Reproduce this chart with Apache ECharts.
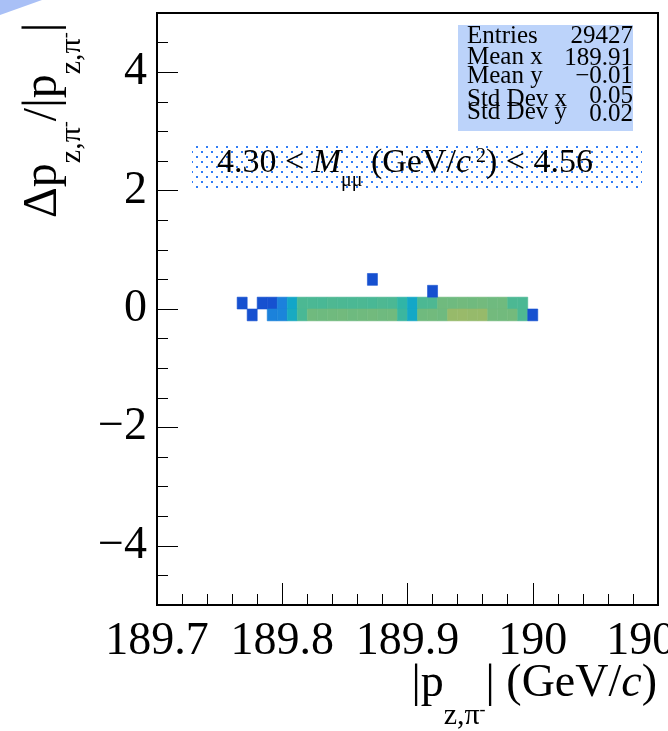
<!DOCTYPE html>
<html>
<head>
<meta charset="utf-8">
<script src="https://cdn.jsdelivr.net/npm/echarts@6/dist/echarts.min.js"></script>
<style>html,body{margin:0;padding:0;background:#fff;}</style>
</head>
<body>
<div id="main" style="width:668px;height:731px;"></div>
<script>
// 2D histogram, bins of 0.008 (x) by 0.2 (y)
var binW = 0.008, binH = 0.2;

// row 0 < y < 0.2 : bin centres and counts
var rowUpperY = 0.1;
var rowUpperX = [189.768, 189.784, 189.792, 189.800, 189.808, 189.816, 189.824, 189.832, 189.840, 189.848,
                 189.856, 189.864, 189.872, 189.880, 189.888, 189.896, 189.904, 189.912, 189.920, 189.928,
                 189.936, 189.944, 189.952, 189.960, 189.968, 189.976, 189.984, 189.992];
var rowUpperN = [1, 2, 4, 145, 290, 540, 535, 530, 545, 540, 535, 540, 530, 545, 535,
                 440, 295, 540, 545, 690, 685, 695, 690, 700, 685, 690, 540, 535];

// row -0.2 < y < 0
var rowLowerY = -0.1;
var rowLowerX = [189.776, 189.792, 189.800, 189.808, 189.816, 189.824, 189.832, 189.840, 189.848, 189.856,
                 189.864, 189.872, 189.880, 189.888, 189.896, 189.904, 189.912, 189.920, 189.928, 189.936,
                 189.944, 189.952, 189.960, 189.968, 189.976, 189.984, 189.992, 190.000];
var rowLowerN = [1, 150, 160, 320, 530, 690, 680, 690, 695, 680, 690, 695, 685, 690,
                 480, 300, 690, 695, 685, 840, 845, 835, 840, 700, 695, 705, 545, 2];

// isolated entries
var strayX = [189.872, 189.920];
var strayY = [0.5, 0.3];
var strayN = [1, 1];

var statNames = ['Entries', 'Mean x', 'Mean y', 'Std Dev x', 'Std Dev y'];
var statValues = ['29427', '189.91', '\u22120.01', '0.05', '0.02'];

var cells = [];
rowUpperX.forEach(function (x, i) { cells.push([x, rowUpperY, rowUpperN[i]]); });
rowLowerX.forEach(function (x, i) { cells.push([x, rowLowerY, rowLowerN[i]]); });
strayX.forEach(function (x, i) { cells.push([x, strayY[i], strayN[i]]); });

var serif = 'Liberation Serif';

// dotted fill for the mass-window label
var pat = document.createElement('canvas');
pat.width = 10; pat.height = 10;
var pc = pat.getContext('2d');
pc.fillStyle = '#2f7cf6';
pc.fillRect(1, 1, 2, 2);
pc.fillRect(6, 6, 2, 2);

var statTexts = [];
var leftBase = [43, 64, 83, 106, 119];
var rightBase = [43, 65, 83, 103, 121];
statNames.forEach(function (s, i) {
    statTexts.push({type: 'text', x: 467, y: leftBase[i] + 6, z: 20,
        style: {text: s, fontFamily: serif, fontSize: 25, fill: '#000', align: 'left', verticalAlign: 'bottom'}});
    statTexts.push({type: 'text', x: 633, y: rightBase[i] + 6, z: 20,
        style: {text: statValues[i], fontFamily: serif, fontSize: 25, fill: '#000', align: 'right', verticalAlign: 'bottom'}});
});

function tok(size, pad, italic) {
    return {fontFamily: serif, fontSize: size, lineHeight: size, verticalAlign: 'top',
            padding: [pad, 0, 0, 0], fontStyle: italic ? 'italic' : 'normal', color: '#000'};
}

var myChart = echarts.init(document.getElementById('main'));

var option = {
    backgroundColor: '#fff',
    animation: false,
    grid: {
        left: 157, top: 13, right: 10, bottom: 126,
        show: true, borderColor: '#000', borderWidth: 2,
        outerBoundsMode: 'none'
    },
    visualMap: {
        show: false, type: 'continuous', min: 0, max: 1000, dimension: 2, seriesIndex: 0,
        inRange: {color: ['#1650d0', '#1c80dc', '#11a6c9', '#2db5a9', '#55b98d', '#76ba7b', '#9cba68', '#c4b955']}
    },
    xAxis: {
        type: 'value', min: 189.7, max: 190.1, interval: 0.1,
        axisLine: {onZero: false, lineStyle: {color: '#000', width: 2}},
        axisTick: {inside: true, length: 22, lineStyle: {color: '#000', width: 1}},
        minorTick: {show: true, splitNumber: 5, length: 11, lineStyle: {color: '#000', width: 1}},
        splitLine: {show: false},
        axisLabel: {fontFamily: serif, fontSize: 46, color: '#000', margin: 14,
                    showMinLabel: true, showMaxLabel: true}
    },
    yAxis: {
        type: 'value', min: -5, max: 5, splitNumber: 5,
        axisLine: {onZero: false, lineStyle: {color: '#000', width: 2}},
        axisTick: {inside: true, length: 21, lineStyle: {color: '#000', width: 1}},
        minorTick: {show: true, splitNumber: 4, length: 11, lineStyle: {color: '#000', width: 1}},
        splitLine: {show: false},
        axisLabel: {fontFamily: serif, fontSize: 46, color: '#000', margin: 10,
                    showMinLabel: false, showMaxLabel: false,
                    formatter: function (v) { return String(v).replace('-', '\u2212'); }}
    },
    series: [{
        type: 'custom',
        coordinateSystem: 'cartesian2d',
        data: cells,
        encode: {x: 0, y: 1},
        clip: true,
        renderItem: function (params, api) {
            var x = api.value(0), y = api.value(1);
            var p0 = api.coord([x - binW / 2, y + binH / 2]);
            var p1 = api.coord([x + binW / 2, y - binH / 2]);
            var c = api.visual('color');
            return {
                type: 'rect',
                shape: {x: p0[0], y: p0[1], width: p1[0] - p0[0], height: p1[1] - p0[1]},
                style: {fill: c, stroke: c, lineWidth: 0.6}
            };
        }
    }],
    graphic: [
        {type: 'polygon', shape: {points: [[0, 0], [42, 0], [0, 15]]}, style: {fill: '#a9c0f6'}},
        {type: 'rect', z: 10, shape: {x: 458, y: 25, width: 175, height: 106}, style: {fill: '#bcd3fa'}},
        {type: 'rect', z: 10, shape: {x: 192, y: 143, width: 450, height: 47},
         style: {fill: {image: pat, repeat: 'repeat'}}},
        {type: 'text', z: 20, x: 217, y: 138,
         style: {
             text: '{m|4.30 < }{i|M}{s|\u03bc\u03bc}{m| (GeV/}{i|c}{u| 2}{m|) < 4.56}',
             align: 'left', verticalAlign: 'top',
             rich: {m: tok(34, 8), i: tok(34, 8, true), s: tok(20, 33), u: tok(20, 9)}
         }},
        {type: 'text', z: 20, x: 657, y: 661,
         style: {
             text: '{m||p}{s|z,\u03c0}{u|-}{m|| (GeV/}{i|c}{m|)}',
             align: 'right', verticalAlign: 'top',
             rich: {m: tok(46, 0), i: tok(46, 0, true), s: tok(30, 40), u: tok(18, 40)}
         }},
        {type: 'text', z: 20, x: 19, y: 218, rotation: Math.PI / 2,
         style: {
             text: '{m|\u0394p}{s|z,\u03c0}{u|-}{m|/|p}{s|z,\u03c0}{u|-}{m||}',
             align: 'left', verticalAlign: 'top',
             rich: {m: tok(48, 0), s: tok(30, 38), u: tok(18, 38)}
         }}
    ].concat(statTexts)
};

myChart.setOption(option);
</script>
</body>
</html>
